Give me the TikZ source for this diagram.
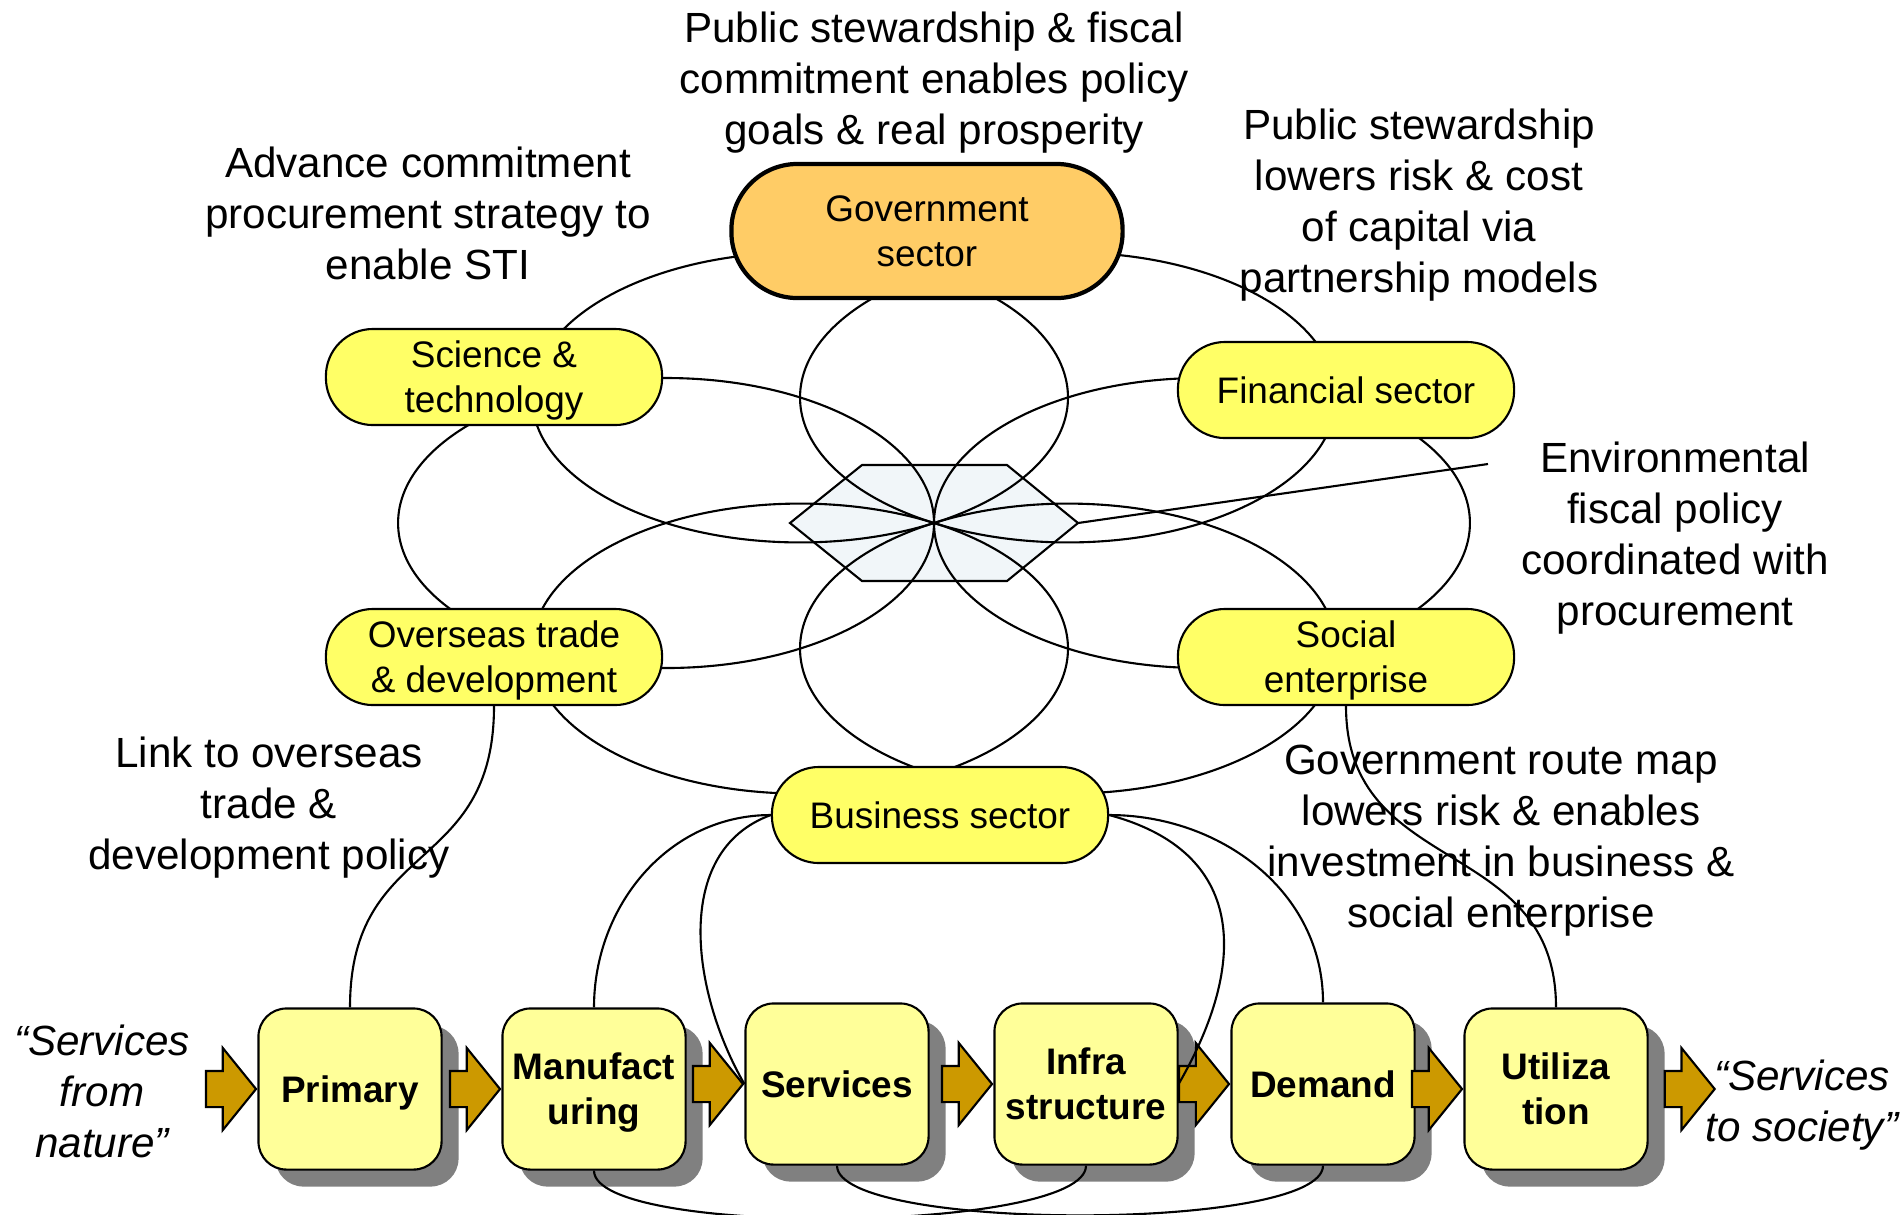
\documentclass[tikz,border=0pt]{standalone}
\usepackage{fontspec}
\setmainfont{Liberation Sans}
\usepackage{xcolor}
\usepackage{tikz}
\usetikzlibrary{positioning, shapes.arrows, shadows}
\definecolor{govorange}{HTML}{FFCC66}
\definecolor{sectoryellow}{HTML}{FFFF66}
\definecolor{flowyellow}{HTML}{FFFF99}
\definecolor{flowgold}{HTML}{CC9900}
\definecolor{shadowgray}{HTML}{808080}
\definecolor{hexfill}{HTML}{F1F6F9}

\begin{document}
\begin{tikzpicture}[
    x=0.01cm, y=0.01cm,
    note/.style={font=\fontsize{12}{14.5}\selectfont, align=center, inner sep=0pt, text depth=0pt},
    quote/.style={note, font=\fontsize{12}{14.5}\selectfont\itshape},
    sector/.style={draw, line width=0.6pt, fill=sectoryellow, rounded corners=0.47cm,
                   minimum width=3.36cm, minimum height=0.96cm, inner sep=0pt, text depth=0pt,
                   font=\fontsize{10.5}{12.8}\selectfont, align=center},
    govbox/.style={sector, fill=govorange, line width=1.2pt, rounded corners=0.66cm,
                   minimum width=3.91cm, minimum height=1.34cm},
    flowbox/.style={draw, line width=0.6pt, fill=flowyellow, rounded corners=0.28cm,
                    minimum width=1.83cm, minimum height=1.61cm, inner sep=0pt, text depth=0pt,
                    font=\fontsize{10.5}{12.8}\selectfont\bfseries, align=center,
                    drop shadow={shadow xshift=0.17cm, shadow yshift=-0.17cm,
                                 fill=shadowgray, opacity=1}},
    flowarr/.style={single arrow, draw, line width=0.6pt, fill=flowgold,
                    inner xsep=0pt, inner ysep=0.17cm,
                    minimum height=0.5cm, minimum width=0.8cm,
                    single arrow head extend=0.23cm, single arrow tip angle=102},
    petal/.style={line width=0.6pt},
    link/.style={line width=0.6pt},
]
\useasboundingbox (0,0) rectangle (1900,-1214);
\clip (0,0) rectangle (1900,-1214);

% policy notes
\node[note] (notegov) at (934,-78) {Public stewardship \& fiscal\\commitment enables policy\\goals \& real prosperity};
\node[note] (notesti) at (428,-213) {Advance commitment\\procurement strategy to\\enable STI};
\node[note] (notefin) at (1419,-201) {Public stewardship\\lowers risk \& cost\\of capital via\\partnership models};
\node[note] (noteenv) at (1675,-534) {Environmental\\fiscal policy\\coordinated with\\procurement};
\node[note] (noteoverseas) at (269,-803) {Link to overseas\\trade \&\\development policy};
\node[note] (noteroute) at (1501,-836) {Government route map\\lowers risk \& enables\\investment in business \&\\social enterprise};
\node[quote] (notenature) at (102,-1091) {“Services\\from\\nature”};
\node[quote] (notesociety) at (1802,-1101) {“Services\\to society”};

% hub and petals
\draw[link, fill=hexfill] (790,-523) -- (862,-465) -- (1007,-465) -- (1078,-523) coordinate (hexr)
  -- (1007,-581) -- (862,-581) -- cycle;
\begin{scope}[shift={(934,-523)}, xscale=1.848]
  \foreach \a in {0,60,...,300}
    \draw[petal] (\a:145) circle (145);
\end{scope}

% sectors
\node[govbox] (gov) at (927,-231) {Government\\sector};
\node[sector] (science) at (494,-377) {Science \&\\technology};
\node[sector] (finance) at (1346,-390) {Financial sector};
\node[sector] (overseas) at (494,-657) {Overseas trade\\\& development};
\node[sector] (social) at (1346,-657) {Social\\enterprise};
\node[sector] (business) at (940,-815) {Business sector};

% value chain
\node[flowbox] (primary) at (350,-1089) {Primary};
\node[flowbox] (manuf) at (594,-1089) {Manufact\\uring};
\node[flowbox] (services) at (837,-1084) {Services};
\node[flowbox] (infra) at (1086,-1084) {Infra\\structure};
\node[flowbox] (demand) at (1323,-1084) {Demand};
\node[flowbox] (util) at (1556,-1089) {Utiliza\\tion};
\node[flowarr, left=0pt of primary] (arr1) {};
\node[flowarr, left=0pt of manuf] (arr2) {};
\node[flowarr, left=0pt of services] (arr3) {};
\node[flowarr, left=0pt of infra] (arr4) {};
\node[flowarr, left=0pt of demand] (arr5) {};
\node[flowarr, left=0pt of util] (arr6) {};
\node[flowarr, right=0.15cm of util] (arr7) {};

% links
\coordinate (envtip) at (1488,-464);
\draw[link] (hexr) -- (envtip);
\draw[link] (overseas.south) to[out=-90, in=90, looseness=1.3] (primary.north);
\draw[link] (business.west) to[out=180, in=90] (manuf.north);
\draw[link] (business.west) to[out=200, in=120] (services.west);
\draw[link] (business.east) to[out=-15, in=60, looseness=1.3] (infra.east);
\draw[link] (business.east) to[out=0, in=90] (demand.north);
\draw[link] (social.south) to[out=-90, in=90, looseness=1.2] (util.north);
\draw[link] (manuf.south) to[out=-90, in=-90, looseness=0.35] (infra.south);
\draw[link] (services.south) to[out=-90, in=-90, looseness=0.35] (demand.south);
\end{tikzpicture}
\end{document}
